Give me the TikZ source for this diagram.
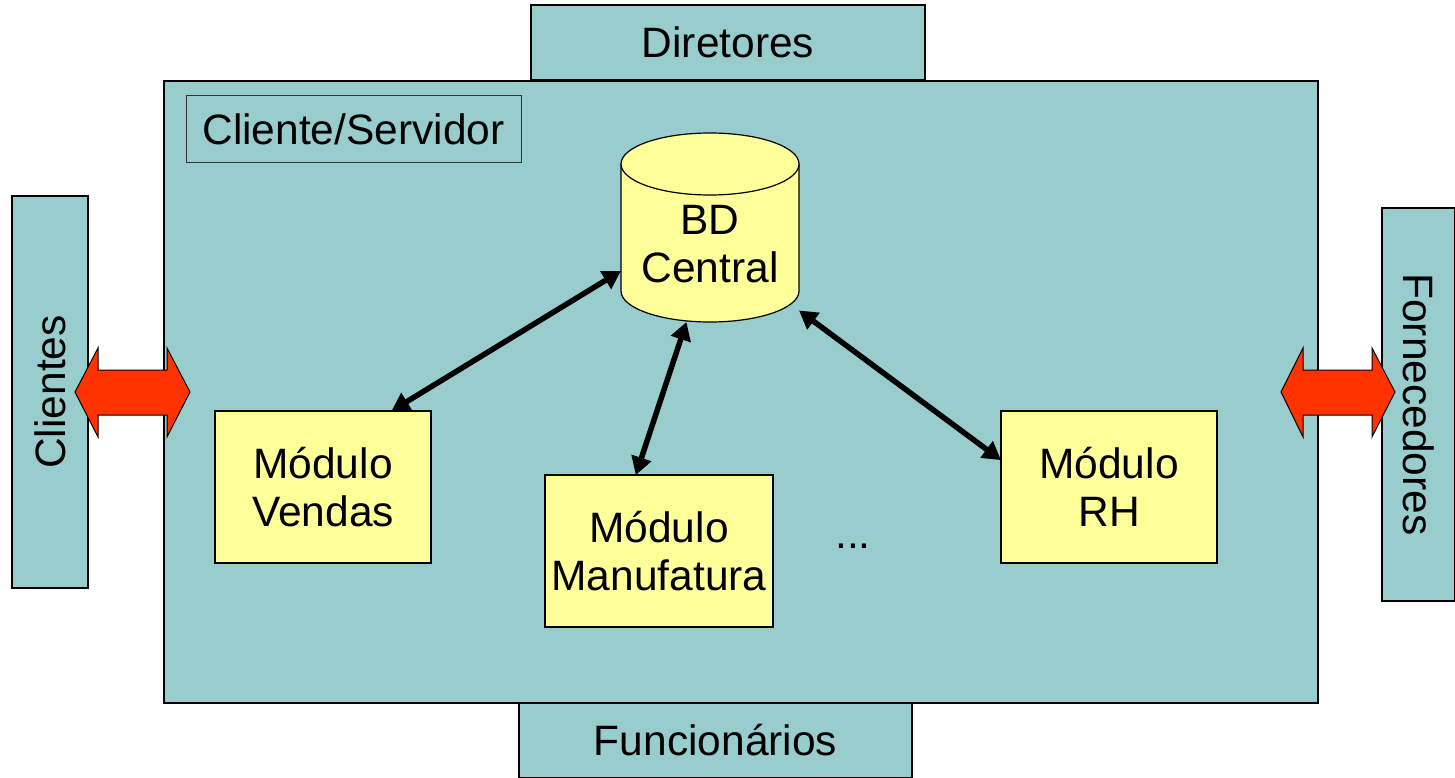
\documentclass[tikz,border=0pt]{standalone}
\usepackage{fontspec}
\setmainfont{Liberation Sans}
\usetikzlibrary{arrows.meta}
\definecolor{tealc}{HTML}{99CCCC}
\definecolor{yellowc}{HTML}{FFFF99}
\definecolor{redc}{HTML}{FF3300}
\begin{document}
\begin{tikzpicture}[x=1pt,y=-1pt,
  every node/.style={font=\fontsize{42.5}{48}\selectfont, inner sep=0pt, outer sep=0pt, align=center},
  tealbox/.style={draw=black, fill=tealc, line width=1.2pt},
  modbox/.style={draw=black, fill=yellowc, line width=1.2pt},
  bigarrow/.style={draw=black, fill=redc, line width=1pt, line join=miter},
  link/.style={line width=5.5pt, {Triangle[length=18pt,width=20pt]}-{Triangle[length=18pt,width=20pt]}}
]
\useasboundingbox (0,0) rectangle (1455,778);
% outer actor boxes
\node[tealbox, minimum width=394pt, minimum height=75pt] (dir) at (728,42.5) {Diretores};
\node[tealbox, minimum width=393pt, minimum height=75pt] (func) at (715.5,740.5) {Funcionários};
\node[tealbox, minimum width=76pt, minimum height=392pt] (cli) at (50,392) {};
\node[rotate=90] (clitext) at (50,392) {Clientes};
\node[tealbox, minimum width=73pt, minimum height=393pt] (forn) at (1418.5,404.5) {};
\node[rotate=-90] (forntext) at (1418.5,404.5) {Fornecedores};
% main system box
\node[tealbox, minimum width=1154pt, minimum height=622pt] (sys) at (741,392) {};
\node[draw=black!80, line width=1pt, minimum width=335pt, minimum height=67pt] (cs) at (353.5,129.5) {Cliente/Servidor};
% database cylinder
\node[minimum width=178pt, minimum height=189pt] (bd) at (710,227.5) {};
\filldraw[fill=yellowc, draw=black, line width=1.2pt]
  (621,164) -- (621,291) arc[start angle=180, end angle=0, x radius=89, y radius=31] -- (799,164);
\filldraw[fill=yellowc, draw=black, line width=1.2pt] (710,164) ellipse[x radius=89, y radius=31];
\node (bdtext) at (710,244) {BD\\Central};
% modules
\node[modbox, minimum width=216pt, minimum height=152pt] (vendas) at (323,487) {Módulo\\Vendas};
\node[modbox, minimum width=228pt, minimum height=152pt] (manu) at (659,551) {Módulo\\Manufatura};
\node[modbox, minimum width=216pt, minimum height=152pt] (rh) at (1109,487) {Módulo\\RH};
\node (dots) at (853,546) {...};
% connectors
\draw[link] (vendas.48) -- (bd.206);
\draw[link] (manu.107) -- (bd.256);
\draw[link] (rh.166) -- (bd.-43);
% red double arrows
\filldraw[bigarrow] (75,392) -- (98,348) -- (98,370) -- (167,370) -- (167,348) -- (190,392)
  -- (167,437) -- (167,415) -- (98,415) -- (98,437) -- cycle;
\filldraw[bigarrow] (1281,392) -- (1303,348) -- (1303,370) -- (1372,370) -- (1372,348) -- (1395,392)
  -- (1372,437) -- (1372,415) -- (1303,415) -- (1303,437) -- cycle;
\end{tikzpicture}
\end{document}
